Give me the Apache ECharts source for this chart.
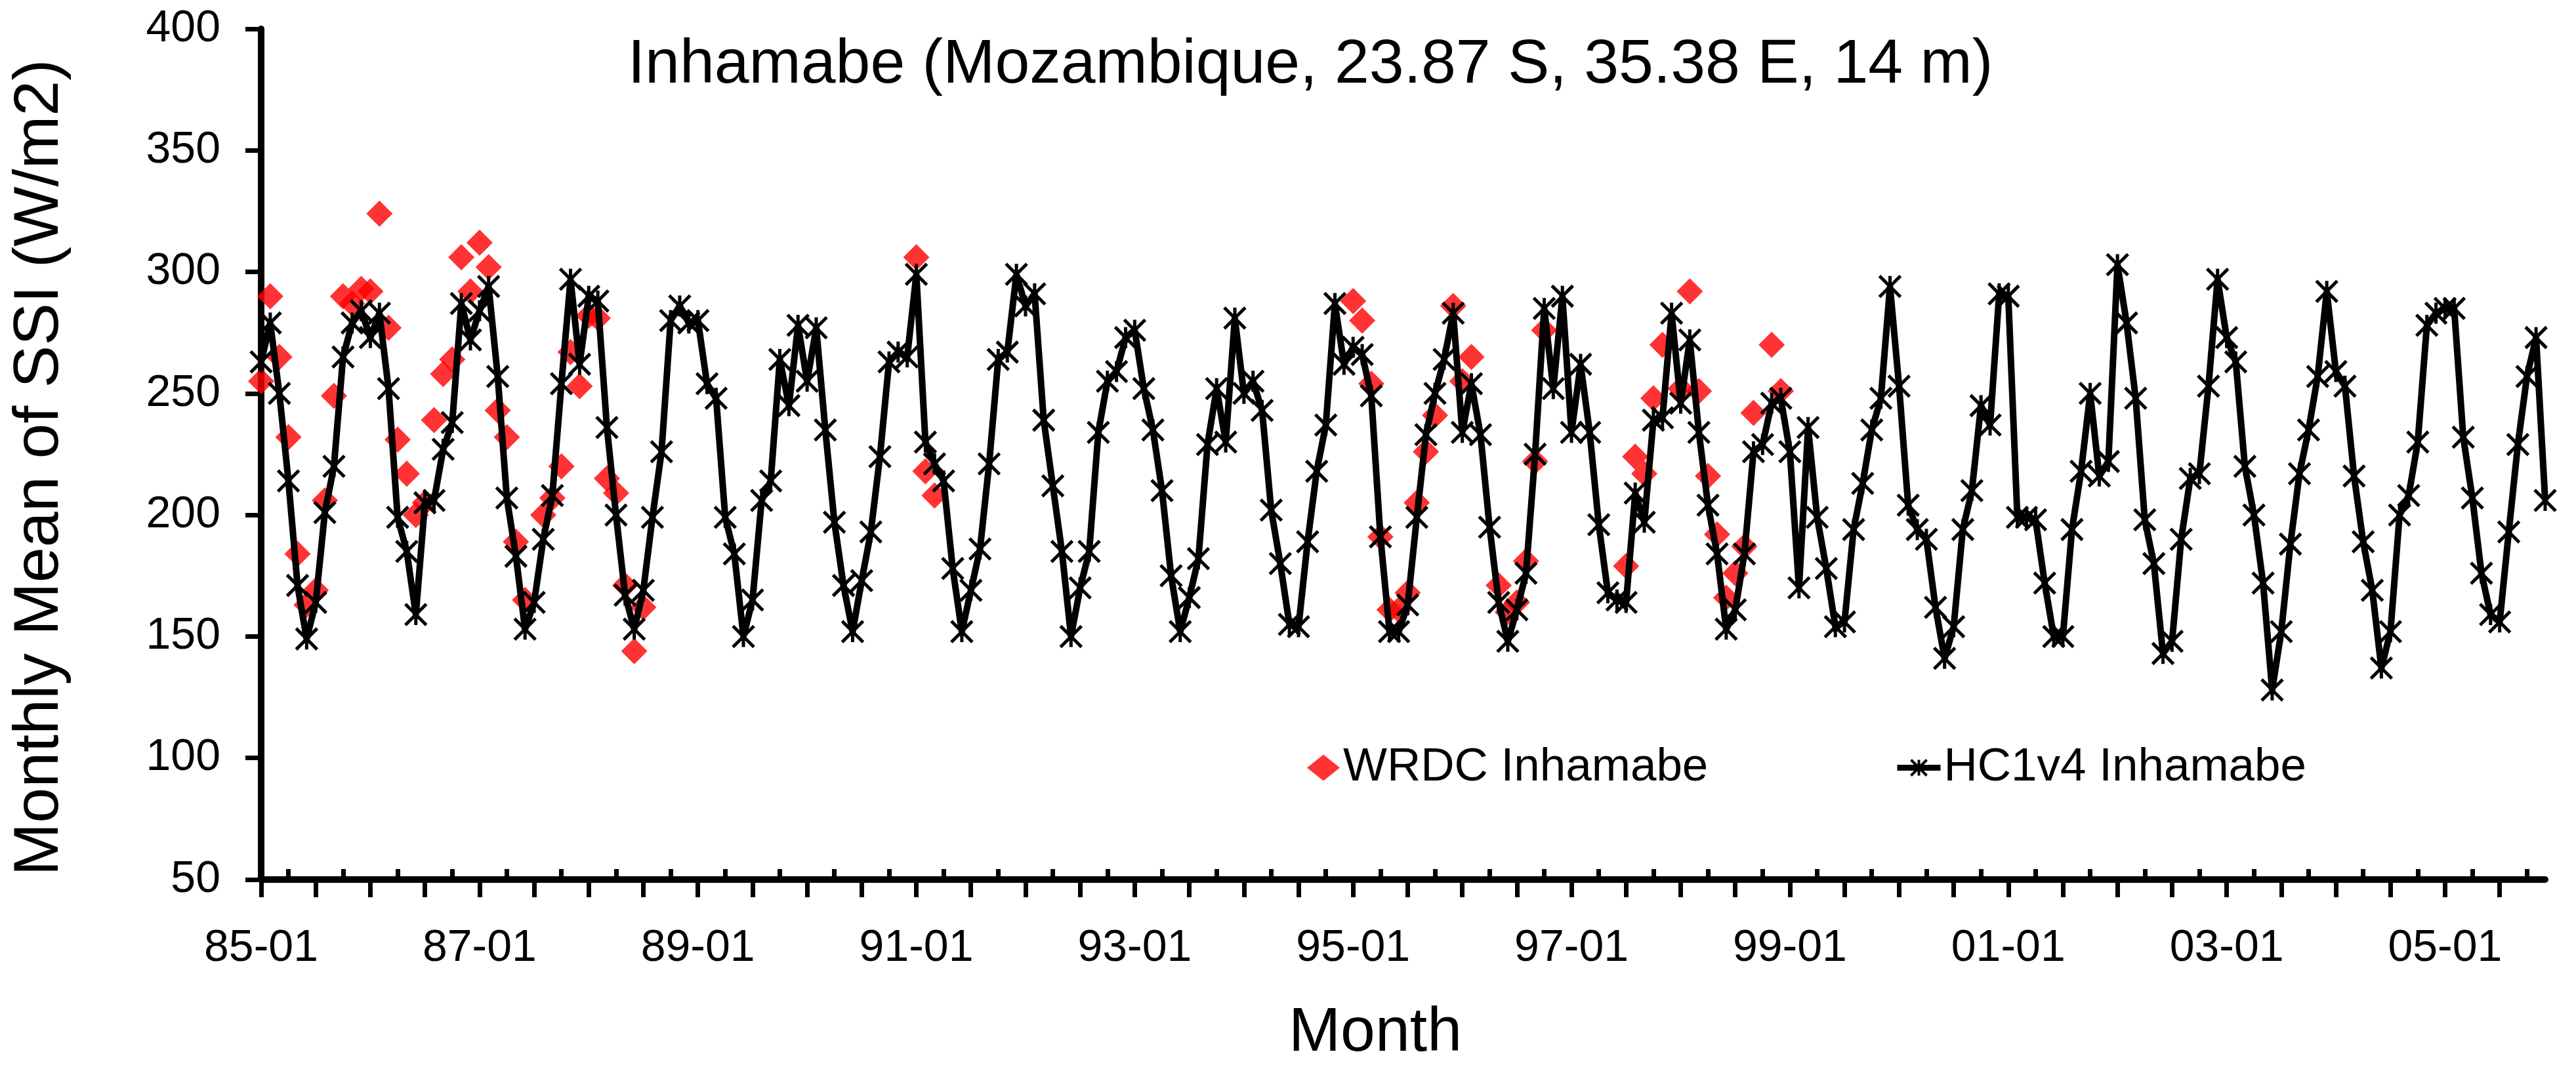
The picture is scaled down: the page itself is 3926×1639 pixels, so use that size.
<!DOCTYPE html>
<html>
<head>
<meta charset="utf-8">
<script src="https://cdn.jsdelivr.net/npm/echarts@6/dist/echarts.min.js"></script>
<style>
html,body{margin:0;padding:0;background:#fff;}
#chart{width:3926px;height:1639px;}
</style>
</head>
<body>
<div id="chart"></div>
<script>
// ---- Data (monthly, Jan 1985 .. Dec 2005) ----
var startYear = 1985;
var endYear = 2005;

// HC1v4 Inhamabe, one row per year (Jan..Dec)
var hc1v4Values = [
  263, 279, 250, 214, 171, 149, 164, 201, 220, 265, 279, 284,
  273, 283, 252, 199, 185, 159, 205, 206, 227, 238, 287, 272,
  284, 294, 257, 207, 183, 153, 164, 190, 208, 254, 297, 262,
  290, 288, 236, 200, 167, 153, 169, 199, 226, 280, 286, 279,
  280, 254, 248, 199, 184, 150, 165, 206, 214, 264, 245, 278,
  255, 277, 235, 197, 171, 152, 173, 193, 224, 263, 267, 265,
  299, 230, 221, 214, 178, 152, 169, 186, 221, 264, 267, 299,
  286, 291, 239, 212, 185, 150, 170, 185, 234, 255, 259, 273,
  276, 252, 235, 210, 175, 152, 166, 182, 229, 252, 230, 281,
  250, 255, 243, 202, 180, 155, 154, 189, 218, 237, 287, 262,
  269, 266, 249, 191, 152, 152, 163, 199, 233, 250, 264, 283,
  234, 254, 233, 195, 164, 148, 161, 176, 225, 285, 252, 290,
  234, 262, 234, 196, 168, 165, 164, 209, 197, 239, 240, 283,
  246, 272, 234, 204, 184, 153, 161, 184, 226, 229, 246, 248,
  226, 170, 236, 199, 178, 154, 156, 194, 213, 235, 248, 294,
  253, 204, 194, 190, 162, 141, 154, 194, 210, 245, 237, 291,
  290, 199, 199, 198, 172, 150, 150, 194, 218, 250, 216, 222,
  303, 279, 248, 198, 180, 143, 148, 190, 215, 217, 253, 297,
  273, 263, 220, 200, 172, 128, 152, 188, 217, 235, 257, 292,
  259, 253, 216, 189, 169, 137, 152, 200, 208, 230, 278, 283,
  285, 285, 232, 207, 176, 159, 156, 193, 229, 257, 273, 206
];

// WRDC Inhamabe ground measurements (null = no data)
var _ = null;
var wrdcValues = [
  255, 290, 265, 232, 184, 163, 169, 206, 249, 290, 287, 293,
  292, 324, 277, 231, 217, 200, 205, 239, 258, 264, 306, 292,
  312, 302, 243, 232, 189, 165, _,   200, 207, 220, 267, 253,
  282, 281, 215, 209, 171, 144, 162, _,   _,   _,   _,   _,
  _,   _,   _,   _,   _,   _,   _,   _,   _,   _,   _,   _,
  _,   _,   _,   _,   _,   _,   _,   _,   _,   _,   _,   _,
  306, 218, 208, _,   _,   _,   _,   _,   _,   _,   _,   _,
  _,   _,   _,   _,   _,   _,   _,   _,   _,   _,   _,   _,
  _,   _,   _,   _,   _,   _,   _,   _,   _,   _,   _,   _,
  _,   _,   _,   _,   _,   _,   _,   _,   _,   _,   _,   _,
  288, 280, 254, 191, 161, 161, 168, 205, 226, 241, _,   286,
  255, 265, _,   _,   171, 160, 164, 181, 222, 276, _,   _,
  _,   _,   _,   _,   _,   _,   179, 224, 217, 248, 270, _,
  252, 292, 251, 216, 192, 166, 176, 187, 242, _,   270, 251,
  _,   _,   _,   _,   _,   _,   _,   _,   _,   _,   _,   _,
  _,   _,   _,   _,   _,   _,   _,   _,   _,   _,   _,   _,
  _,   _,   _,   _,   _,   _,   _,   _,   _,   _,   _,   _,
  _,   _,   _,   _,   _,   _,   _,   _,   _,   _,   _,   _,
  _,   _,   _,   _,   _,   _,   _,   _,   _,   _,   _,   _,
  _,   _,   _,   _,   _,   _,   _,   _,   _,   _,   _,   _,
  _,   _,   _,   _,   _,   _,   _,   _,   _,   _,   _,   _
];

// Month categories "YY-MM"
var months = [];
for (var y = startYear; y <= endYear; y++) {
  for (var mo = 1; mo <= 12; mo++) {
    months.push(String(y % 100).padStart(2, '0') + '-' + String(mo).padStart(2, '0'));
  }
}

var yTicks = { min: 50, max: 400, step: 50 };
var titleText = 'Inhamabe (Mozambique, 23.87 S, 35.38 E, 14 m)';
var xTitle = 'Month';
var yTitle = 'Monthly Mean of SSI (W/m2)';
var seriesNames = ['WRDC Inhamabe', 'HC1v4 Inhamabe'];

// ---- Chart ----
var FONT = '"Liberation Sans", Arial, sans-serif';
var starPath = 'path://M0,0L32,32M32,0L0,32M16,0L16,32';

var chart = echarts.init(document.getElementById('chart'), null, { renderer: 'canvas' });

var option = {
  backgroundColor: '#ffffff',
  animation: false,
  title: {
    text: titleText,
    left: 1997,
    top: 52,
    padding: 0,
    textAlign: 'center',
    textStyle: { fontFamily: FONT, fontSize: 95, fontWeight: 'normal', color: '#000' }
  },
  grid: { left: 398, right: 47, top: 44, bottom: 298, containLabel: false },
  legend: [
    {
      data: [{ name: seriesNames[0], icon: 'diamond' }],
      left: 1992, top: 1135, padding: 0,
      itemWidth: 50, itemHeight: 40,
      textStyle: { fontFamily: FONT, fontSize: 71, color: '#000' }
    },
    {
      data: [seriesNames[1]],
      left: 2887, top: 1135, padding: 0,
      itemWidth: 66, itemHeight: 30,
      lineStyle: { width: 9, color: '#000' },
      itemStyle: { color: '#000', borderColor: '#000', borderWidth: 4 },
      textStyle: { fontFamily: FONT, fontSize: 71, color: '#000' }
    }
  ],
  xAxis: [
    {
      type: 'category',
      data: months,
      boundaryGap: false,
      axisLine: { lineStyle: { color: '#000', width: 10 } },
      axisTick: {
        show: true, inside: false, length: 27,
        interval: function (i) { return i % 6 === 0; },
        lineStyle: { color: '#000', width: 7 }
      },
      axisLabel: {
        interval: function (i) { return i % 24 === 0; },
        margin: 71,
        fontFamily: FONT, fontSize: 68, color: '#000'
      },
      splitLine: { show: false }
    },
    {
      type: 'category',
      data: months,
      boundaryGap: false,
      position: 'bottom',
      offset: 0,
      axisLine: { show: false },
      axisTick: {
        show: true, inside: true, length: 16,
        interval: function (i) { return i % 6 === 3; },
        lineStyle: { color: '#000', width: 7 }
      },
      axisLabel: { show: false },
      splitLine: { show: false }
    }
  ],
  yAxis: {
    type: 'value',
    min: yTicks.min, max: yTicks.max, interval: yTicks.step,
    axisLine: { show: true, lineStyle: { color: '#000', width: 10 } },
    axisTick: { show: true, inside: false, length: 24, lineStyle: { color: '#000', width: 7 } },
    axisLabel: { margin: 62, fontFamily: FONT, fontSize: 68, color: '#000' },
    splitLine: { show: false }
  },
  graphic: [
    {
      type: 'text', x: 61, y: 713, rotation: Math.PI / 2,
      style: { text: yTitle, font: '97px ' + FONT, fill: '#000', textAlign: 'center', textVerticalAlign: 'middle' }
    },
    {
      type: 'text', x: 2096, y: 1576,
      style: { text: xTitle, font: '95px ' + FONT, fill: '#000', textAlign: 'center', textVerticalAlign: 'middle' }
    }
  ],
  series: [
    {
      name: seriesNames[0],
      type: 'scatter',
      xAxisIndex: 0,
      data: wrdcValues,
      symbol: 'diamond',
      symbolSize: 40,
      itemStyle: { color: '#ff0000' },
      z: 2
    },
    {
      name: seriesNames[1],
      type: 'line',
      xAxisIndex: 0,
      data: hc1v4Values,
      symbol: starPath,
      symbolSize: 32,
      showAllSymbol: true,
      lineStyle: { color: '#000', width: 10 },
      itemStyle: { color: '#000', borderColor: '#000', borderWidth: 5 },
      z: 3
    }
  ]
};
chart.setOption(option);
</script>
</body>
</html>
